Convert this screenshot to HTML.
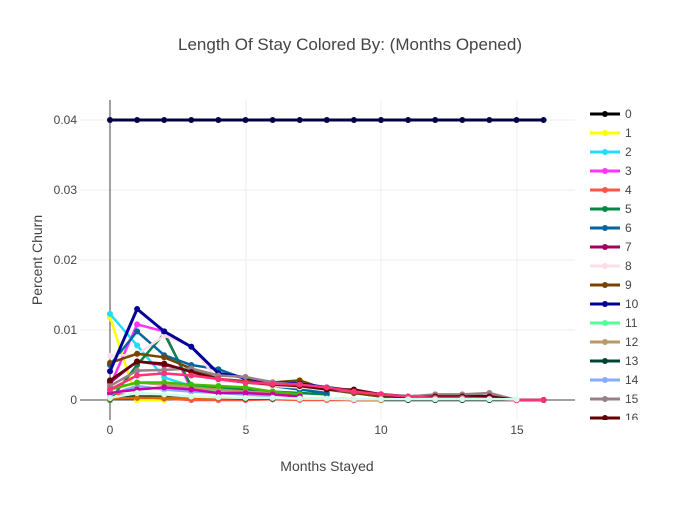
<!DOCTYPE html>
<html><head><meta charset="utf-8"><style>
body{margin:0;background:#fff;font-family:"Liberation Sans",sans-serif}
svg text{font-family:"Liberation Sans",sans-serif;fill:#444}
</style></head><body>
<svg id="s" width="700" height="500" xmlns="http://www.w3.org/2000/svg">
<text x="350" y="50" text-anchor="middle" font-size="17">Length Of Stay Colored By: (Months Opened)</text>
<g stroke="#eee" stroke-width="1">
<line x1="80" x2="575" y1="330" y2="330"/><line x1="80" x2="575" y1="260" y2="260"/><line x1="80" x2="575" y1="190" y2="190"/><line x1="80" x2="575" y1="120" y2="120"/>
<line x1="246" x2="246" y1="100" y2="420"/><line x1="381" x2="381" y1="100" y2="420"/><line x1="517" x2="517" y1="100" y2="420"/>
</g>
<line x1="80" x2="575" y1="400" y2="400" stroke="#444"/>
<line x1="110" x2="110" y1="100" y2="420" stroke="#444"/>
<g font-size="12" text-anchor="end">
<text x="77" y="404">0</text><text x="77" y="334">0.01</text><text x="77" y="264">0.02</text><text x="77" y="194">0.03</text><text x="77" y="124">0.04</text>
</g>
<g font-size="12" text-anchor="middle">
<text x="110" y="434">0</text><text x="246" y="434">5</text><text x="381" y="434">10</text><text x="517" y="434">15</text>
</g>
<text x="327" y="471" font-size="14" text-anchor="middle">Months Stayed</text>
<text transform="translate(42,260) rotate(-90)" font-size="14" text-anchor="middle">Percent Churn</text>
<g id="plot"></g>
<g id="leg"></g>
</svg>
<script>
var X=function(x){return 110+x*27.1},Y=function(v){return 400-v*7};
var S=[
["#000",[0.2,0.3,0.3,0.2,0.1,0.1,0.1,0.1,0.1,0,0,0,0,0,0,0,0]],
["#ffff00",[11.8,0,0]],
["#22ddff",[12.3,7.8,3.2,2,1,0.8]],
["#ff33ff",[2,10.8,9.8,1.5,1.2,1,0.8]],
["#ff5544",[1,0.5,0.2,0,0,0,0.1,0,0,0,0]],
["#008844",[0,5,9.5,2,1.8,1.5,1.2,1,0.8]],
["#0066a0",[5,9.8,6.4,5,4.4,3,2,1.5,1]],
["#a00060",[2.5,5.5,5,4.2,3,2.5,2.3,2,1.5,1,0.5,0.3,0.5,0.5,0.5]],
["#ffdde8",[6.3,6.5,9.2,7.7,2.7,2.5,2,1.8,1.5,1,0.5,0.3,0.3,0.3,0.3,0.1]],
["#774400",[5.3,6.6,6.1,4.5,3,2.7,2.5,2.8,1.5,1,0.5,0.3,0.5,0.5,0.5,0]],
["#000099",[4.1,13,9.8,7.6,3.8,3.2,2.5,2.3,1.8,1.3,0.8,0.5,0.6,0.6,0.5,0]],
["#55ff99",[1,1.5,1.8,1.5,1.2,1,0.8,0.6]],
["#bb9966",[1.5,2.5,2.2,1.8,1.5,1.2,1,0.8]],
["#004433",[0.3,0.5,0.5,0.4,0.3,0.2,0.2]],
["#88aaff",[0.8,2,1.5,1.2,1,0.8,0.6]],
["#998088",[2,4.2,4.3,4.5,3.5,3.3,2.5,2.2,1.6,1.2,0.8,0.5,0.8,0.8,1,0]],
["#660000",[2.8,5.5,5.2,4,3,2.5,2.2,2,1.5,1.5,0.8,0.3,0.5,0.5,0.5,0,0]],
["#44bb00",[1.5,2.5,2.5,2.2,2,1.8,1.2,0.8]],
["#cc00aa",[1,1.5,1.8,1.5,1,1,0.8,0.5]],
["#ff3377",[1.5,3.5,3.8,3.5,3,2.5,2.3,2.2,1.8,1.2,0.8,0.5,0.3,0.3,0.2,0,0]],
["#dd6600",[0.2,0.3,0.3,0.3,0.3,0.3,0.3,0.2,0.2,0.1,0]],
["#ccffee",[0.3,1,0.8,0.5,0.4,0.3,0.3,0.2,0.2,0.1,0.1,0.1,0.1,0.1,0.1,0.1]],
["#000044",[40,40,40,40,40,40,40,40,40,40,40,40,40,40,40,40,40]]
];
var ns="http://www.w3.org/2000/svg",g=document.getElementById("plot"),h="";
S.forEach(function(s,i){var p=s[1].map(function(v,k){return X(k)+","+Y(v)}).join(" ");
var w=(i==10||i==22)?3:2.5;
h+='<polyline points="'+p+'" fill="none" stroke="'+s[0]+'" stroke-width="'+w+'"/>';
s[1].forEach(function(v,k){h+='<circle cx="'+X(k)+'" cy="'+Y(v)+'" r="3" fill="'+s[0]+'"/>';});});
g.innerHTML=h;
var L=["#000","#ffff00","#22ddff","#ff33ff","#ff5544","#008844","#0066a0","#a00060","#ffdde8","#774400","#000099","#55ff99","#bb9966","#004433","#88aaff","#998088","#660000"];
var lh='<clipPath id="c"><rect x="580" y="100" width="100" height="320"/></clipPath><g clip-path="url(#c)">';
L.forEach(function(c,i){var y=114+i*19;lh+='<line x1="590" x2="620" y1="'+y+'" y2="'+y+'" stroke="'+c+'" stroke-width="3"/><circle cx="605" cy="'+y+'" r="3" fill="'+c+'"/><text x="625" y="'+(y+4)+'" font-size="12">'+i+'</text>';});
document.getElementById("leg").innerHTML=lh+'</g>';
</script>
</body></html>
